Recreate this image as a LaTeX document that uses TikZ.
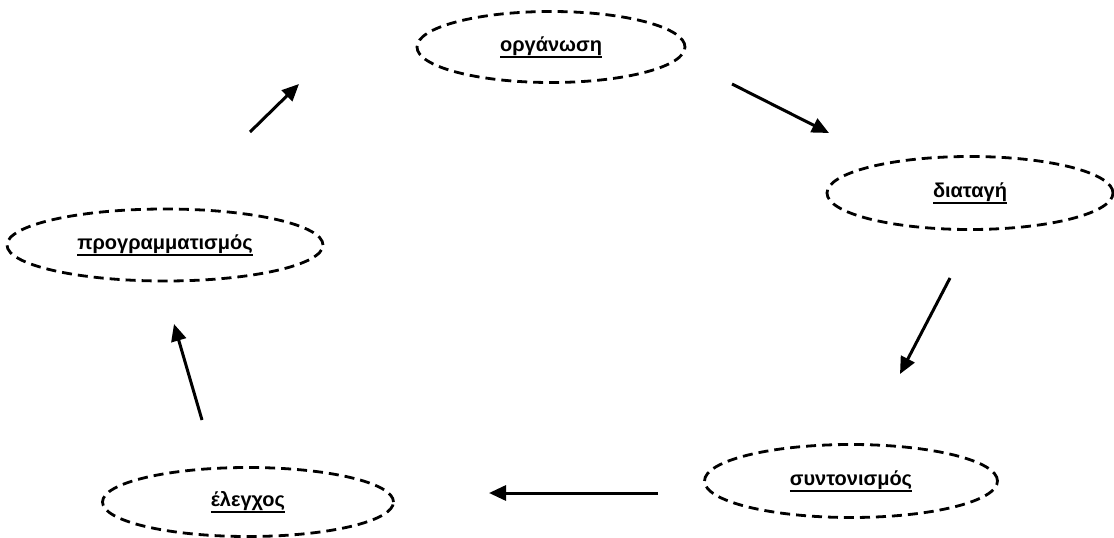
\documentclass[tikz,border=0pt]{standalone}
\usepackage{fontspec}
\setmainfont{Liberation Sans}
\usetikzlibrary{shapes.geometric,arrows.meta}
\tikzset{
  stage/.style={draw=black, ellipse, dash pattern=on 10pt off 6pt, line width=2.8pt, inner sep=0pt,
    font=\fontsize{20}{24}\selectfont\bfseries},
  flow/.style={line width=3pt, -{Triangle[length=17pt,width=15pt]}}
}
\newcommand{\ulbl}[1]{\leavevmode\vtop{\hbox{#1}\kern0.5pt\hrule height 2pt}}
\begin{document}
\begin{tikzpicture}[x=1pt,y=-1pt]
\useasboundingbox (0,0) rectangle (1114,538);
\node[stage, minimum width=268pt, minimum height=71pt] (org) at (551,47) {\ulbl{οργάνωση}};
\node[stage, minimum width=286pt, minimum height=73pt] (diat) at (970,193) {\ulbl{διαταγή}};
\node[stage, minimum width=316pt, minimum height=72pt] (prog) at (165,245) {\ulbl{προγραμματισμός}};
\node[stage, minimum width=293pt, minimum height=73pt] (synt) at (851,481) {\ulbl{συντονισμός}};
\node[stage, minimum width=291pt, minimum height=69pt] (eleg) at (248,502) {\ulbl{έλεγχος}};
\coordinate (a1) at (250,132); \coordinate (a2) at (299,84);
\coordinate (b1) at (732,84);  \coordinate (b2) at (829,133);
\coordinate (c1) at (950,278); \coordinate (c2) at (900,374);
\coordinate (d1) at (658,493); \coordinate (d2) at (489,493);
\coordinate (e1) at (202,420); \coordinate (e2) at (174,324);
\draw[flow] (a1) -- (a2);
\draw[flow] (b1) -- (b2);
\draw[flow] (c1) -- (c2);
\draw[flow] (d1) -- (d2);
\draw[flow] (e1) -- (e2);
\end{tikzpicture}
\end{document}
